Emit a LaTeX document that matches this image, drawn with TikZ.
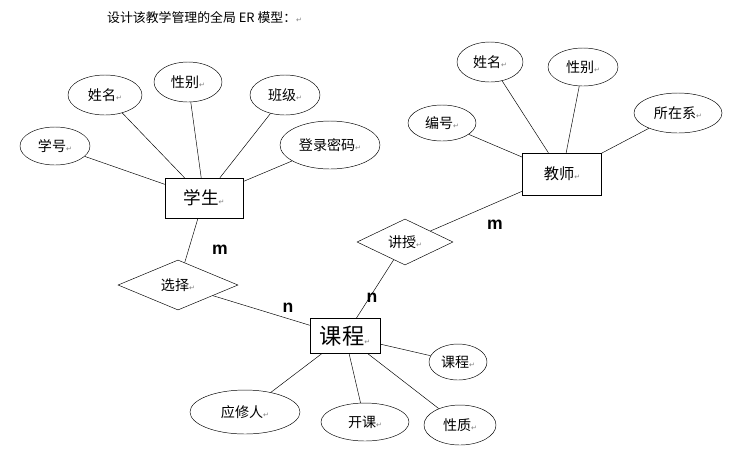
\documentclass[tikz,border=0pt]{standalone}
\usepackage{fontspec}
\setmainfont{Noto Sans CJK SC}
\newfontfamily\symfont{DejaVu Sans}
\newfontfamily\latfont{Liberation Sans}
\usetikzlibrary{shapes.geometric}
\newcommand{\rt}{{\symfont\color{gray}\fontsize{6}{6}\selectfont ↵}}
\tikzset{
  attr/.style={draw=black, ellipse, inner sep=0pt, font=\fontsize{12}{14}\selectfont},
  ent/.style={draw=black, rectangle, inner sep=0pt},
  rel/.style={draw=black, diamond, aspect=2.4, inner sep=0pt, font=\fontsize{12}{14}\selectfont},
  card/.style={font=\latfont\bfseries\fontsize{15}{16}\selectfont}
}
\begin{document}
\begin{tikzpicture}[x=0.03cm, y=-0.03cm]
\useasboundingbox[fill=white] (0,0) rectangle (736,463);
\node[anchor=west, font=\fontsize{11}{13}\selectfont] (title) at (103,18) {设计该教学管理的全局 ER 模型：\rt};

% student
\node[ent, minimum width=2.34cm, minimum height=1.2cm, font=\fontsize{15}{17}\selectfont] (stu) at (204,198) {学生\rt};
\node[attr, minimum width=2.1cm, minimum height=1.14cm] (sno) at (55,146) {学号\rt};
\node[attr, minimum width=2.22cm, minimum height=1.2cm] (sname) at (105,95) {姓名\rt};
\node[attr, minimum width=2.04cm, minimum height=1.2cm] (ssex) at (188,82) {性别\rt};
\node[attr, minimum width=2.1cm, minimum height=1.2cm] (sclass) at (285,95) {班级\rt};
\node[attr, minimum width=3cm, minimum height=1.44cm] (spwd) at (330,145) {登录密码\rt};

% teacher
\node[ent, minimum width=2.37cm, minimum height=1.26cm, font=\fontsize{13}{15}\selectfont] (tea) at (562,174) {教师\rt};
\node[attr, minimum width=1.98cm, minimum height=1.2cm] (tname) at (490,62) {姓名\rt};
\node[attr, minimum width=2.1cm, minimum height=1.14cm] (tsex) at (583,67) {性别\rt};
\node[attr, minimum width=2.04cm, minimum height=1.08cm] (tno) at (442,123) {编号\rt};
\node[attr, minimum width=2.64cm, minimum height=1.2cm] (tdept) at (678,113) {所在系\rt};

% course
\node[ent, minimum width=2.1cm, minimum height=1.05cm, font=\fontsize{19}{21}\selectfont] (cou) at (345,336) {课程\rt};
\node[attr, minimum width=1.74cm, minimum height=1.08cm] (cname) at (458,362) {课程\rt};
\node[attr, minimum width=3.3cm, minimum height=1.32cm] (cneed) at (245,412) {应修人\rt};
\node[attr, minimum width=2.64cm, minimum height=1.14cm] (copen) at (365,422) {开课\rt};
\node[attr, minimum width=2.16cm, minimum height=1.2cm] (ctype) at (460,425) {性质\rt};

% relations
\node[rel, minimum width=3.6cm, minimum height=1.5cm] (sel) at (178,285) {选择\rt};
\node[rel, minimum width=2.88cm, minimum height=1.38cm] (tch) at (405,242) {讲授\rt};

\foreach \a in {sno,sname,ssex,sclass,spwd} \draw (\a) -- (stu);
\foreach \a in {tname,tsex,tno,tdept} \draw (\a) -- (tea);
\foreach \a in {cname,cneed,copen,ctype} \draw (\a) -- (cou);

\draw (stu) -- (sel);
\draw (sel) -- (cou);
\draw (cou) -- (tch);
\draw (tch) -- (tea);

\node[card] (m1) at (220,250) {m};
\node[card] (n1) at (288,308) {n};
\node[card] (n2) at (372,298) {n};
\node[card] (m2) at (495,225) {m};
\end{tikzpicture}
\end{document}
